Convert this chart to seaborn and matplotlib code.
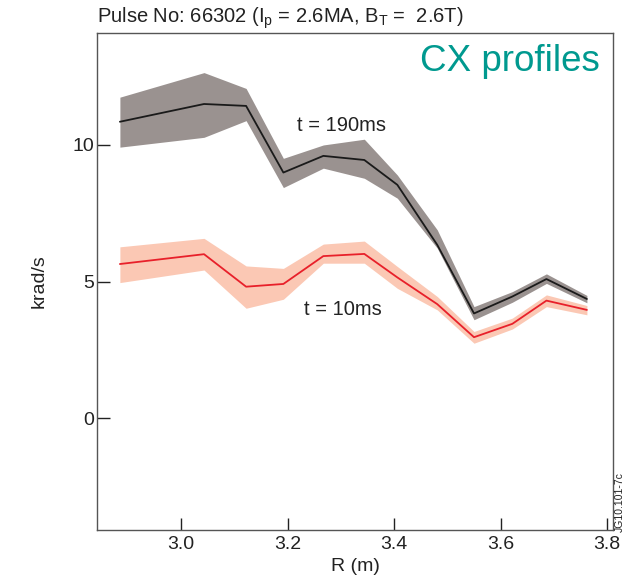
import matplotlib
matplotlib.use("Agg")
import matplotlib.pyplot as plt
import seaborn as sns
import pandas as pd

# Data
R = [2.885, 3.043, 3.122, 3.192, 3.267, 3.344, 3.406, 3.481, 3.550, 3.622, 3.686, 3.762]

t190_mean = [10.85, 11.50, 11.43, 8.99, 9.60, 9.45, 8.54, 6.34, 3.83, 4.45, 5.09, 4.36]
t190_upper = [11.75, 12.65, 12.07, 9.51, 10.00, 10.21, 8.90, 6.89, 4.08, 4.63, 5.28, 4.49]
t190_lower = [9.92, 10.28, 10.89, 8.44, 9.15, 8.78, 8.05, 6.22, 3.60, 4.24, 4.93, 4.22]

t10_mean = [5.64, 6.00, 4.81, 4.91, 5.93, 6.01, 5.15, 4.17, 2.96, 3.45, 4.30, 3.96]
t10_upper = [6.27, 6.58, 5.57, 5.48, 6.37, 6.48, 5.55, 4.45, 3.17, 3.66, 4.51, 4.12]
t10_lower = [4.96, 5.42, 4.02, 4.35, 5.67, 5.67, 4.75, 3.96, 2.74, 3.26, 4.08, 3.78]

x_ticks = [3.0, 3.2, 3.4, 3.6, 3.8]
y_ticks = [0, 5, 10]

sns.set_style("ticks")
plt.rcParams['font.family'] = ['Liberation Sans', 'DejaVu Sans']
plt.rcParams['mathtext.fontset'] = 'custom'
plt.rcParams['mathtext.rm'] = 'Liberation Sans'
plt.rcParams['mathtext.it'] = 'Liberation Sans'

df = pd.DataFrame({
    "R": R * 2,
    "v": t190_mean + t10_mean,
    "series": ["t190"] * len(R) + ["t10"] * len(R),
})

fig = plt.figure(figsize=(6.26, 5.77), dpi=100)
ax = fig.add_axes([97 / 626, 47 / 577, 516 / 626, 497 / 577])

band_gray = "#9a9290"
band_red = "#fbc8b4"
ax.fill_between(R, t190_lower, t190_upper, color=band_gray, linewidth=0, zorder=1)
ax.fill_between(R, t10_lower, t10_upper, color=band_red, linewidth=0, zorder=1)

sns.lineplot(data=df, x="R", y="v", hue="series",
             palette={"t190": "#1a1a1a", "t10": "#e8202a"},
             linewidth=1.3, legend=False, ax=ax, zorder=2)

ax.set_xlim(2.842, 3.811)
ax.set_ylim(-4.1, 14.1)
ax.set_xticks(x_ticks)
ax.set_xticklabels([f"{v:.1f}" for v in x_ticks])
ax.set_yticks(y_ticks)
ax.set_yticklabels([str(v) for v in y_ticks])
ax.tick_params(direction="in", length=9, width=1.0, labelsize=14,
               colors="#222222", top=False, right=False)
ax.tick_params(axis="y", pad=2)
ax.tick_params(axis="x", pad=4)
for s in ax.spines.values():
    s.set_color("#555555")
    s.set_linewidth(1.0)

ax.set_xlabel("R (m)", fontsize=14, labelpad=4, color="#222222")
ax.set_ylabel("krad/s", fontsize=14, labelpad=18, color="#222222")

ax.text(3.217, 10.73, "t = 190ms", fontsize=14.5, va="center", ha="left", color="#222222")
ax.text(3.230, 3.96, "t = 10ms", fontsize=14.5, va="center", ha="left", color="#222222")
ax.text(0.975, 0.942, "CX profiles", transform=ax.transAxes, fontsize=26.5,
        ha="right", va="center", color="#00998f")

fig.text(97 / 626, 1 - 18 / 577,
         r"Pulse No: 66302 (I$_{\rm p}$ = 2.6MA, B$_{\rm T}$ =  2.6T)",
         fontsize=14.5, ha="left", va="center", color="#222222")
fig.text(620 / 626, 1 - 502 / 577, "JG10.101-7c", rotation=90, fontsize=7.5,
         ha="center", va="center", color="#222222")

fig.savefig("out.png", dpi=100)
